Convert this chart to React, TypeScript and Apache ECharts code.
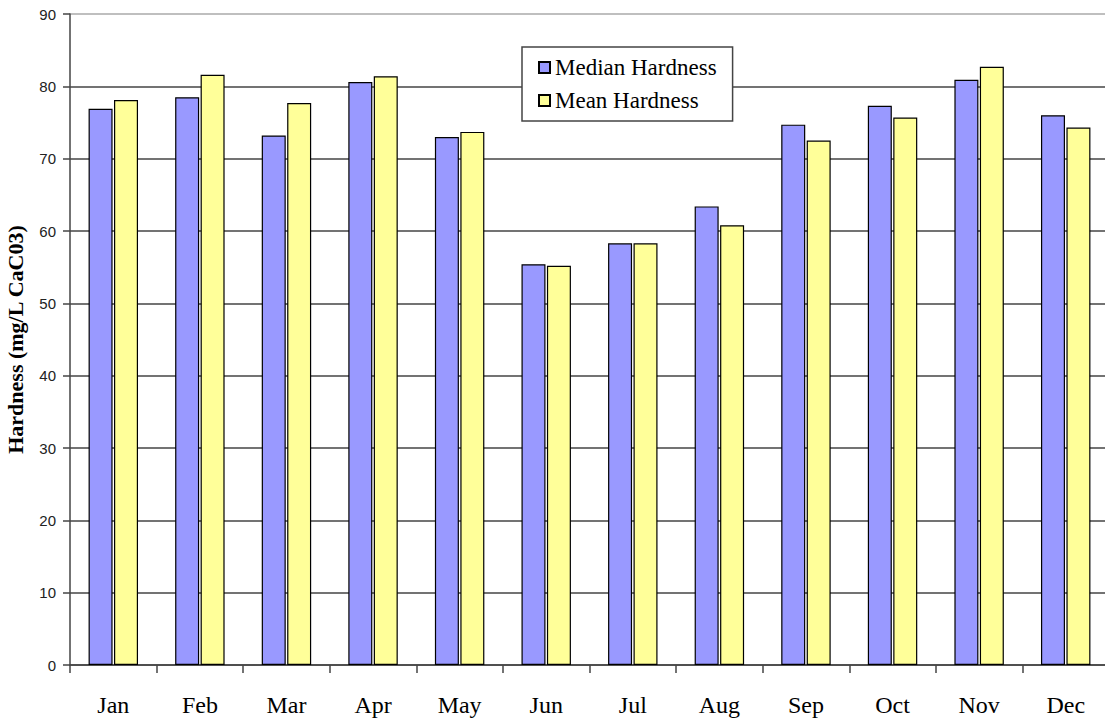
import React, { useEffect, useRef } from "react";
import * as echarts from "echarts";

const months = ["Jan", "Feb", "Mar", "Apr", "May", "Jun", "Jul", "Aug", "Sep", "Oct", "Nov", "Dec"];
const medianHardness = [76.9, 78.5, 73.2, 80.6, 73.0, 55.4, 58.3, 63.4, 74.7, 77.3, 80.9, 76.0];
const meanHardness = [78.1, 81.6, 77.7, 81.4, 73.7, 55.2, 58.3, 60.8, 72.5, 75.7, 82.7, 74.3];
const seriesNames = ["Median Hardness", "Mean Hardness"];
const yName = "Hardness (mg/L CaC03)";

export default function App() {
  const ref = useRef<HTMLDivElement>(null);
  useEffect(() => {
    document.body.style.margin = "0";
    const chart = echarts.init(ref.current!, null, { renderer: "svg" });
    const serif = "Liberation Serif";
    const legendText = { fontFamily: serif, fontSize: 23, color: "#000" };
    chart.setOption({
      animation: false,
      backgroundColor: "#ffffff",
      textStyle: { fontFamily: serif },
      grid: { left: 70, top: 14, right: -4, bottom: 56, containLabel: false, outerBoundsMode: "none" },
      legend: {
        orient: "vertical",
        left: 522,
        top: 47,
        width: 217,
        icon: "rect",
        itemWidth: 11,
        itemHeight: 11,
        itemGap: 10,
        padding: [9, 16, 9, 16],
        backgroundColor: "#ffffff",
        borderColor: "#444",
        borderWidth: 1.5,
        textStyle: legendText,
        data: seriesNames,
      },
      xAxis: {
        type: "category",
        data: months,
        axisLine: { lineStyle: { color: "#444", width: 1.5 } },
        axisTick: { show: true, length: 8, interval: 0, lineStyle: { color: "#444", width: 1.5 } },
        axisLabel: { interval: 0, margin: 28, fontFamily: serif, fontSize: 24, color: "#000" },
      },
      yAxis: {
        type: "value",
        min: 0,
        max: 90,
        interval: 10,
        name: yName,
        nameLocation: "middle",
        nameGap: 44,
        nameTextStyle: { fontFamily: serif, fontSize: 22, fontWeight: "bold", color: "#000" },
        axisLine: { show: true, lineStyle: { color: "#444", width: 1.5 } },
        axisTick: { show: true, length: 7, lineStyle: { color: "#444", width: 1.5 } },
        axisLabel: { margin: 14, fontFamily: "Liberation Sans", fontSize: 15, color: "#222" },
        splitLine: {
          show: true,
          lineStyle: {
            color: ["#444", "#444", "#444", "#444", "#444", "#444", "#444", "#444", "#444", "#aaa"],
            width: 1.5,
          },
        },
      },
      series: [
        {
          name: seriesNames[0],
          type: "bar",
          data: medianHardness,
          barWidth: 24,
          barGap: "6%",
          itemStyle: { color: "#9999FF", borderColor: "#000", borderWidth: 1.2 },
        },
        {
          name: seriesNames[1],
          type: "bar",
          data: meanHardness,
          barWidth: 24,
          barGap: "6%",
          itemStyle: { color: "#FFFF99", borderColor: "#000", borderWidth: 1.2 },
        },
      ],
    });
    return () => chart.dispose();
  }, []);
  return <div ref={ref} style={{ width: 1105, height: 721 }} />;
}
